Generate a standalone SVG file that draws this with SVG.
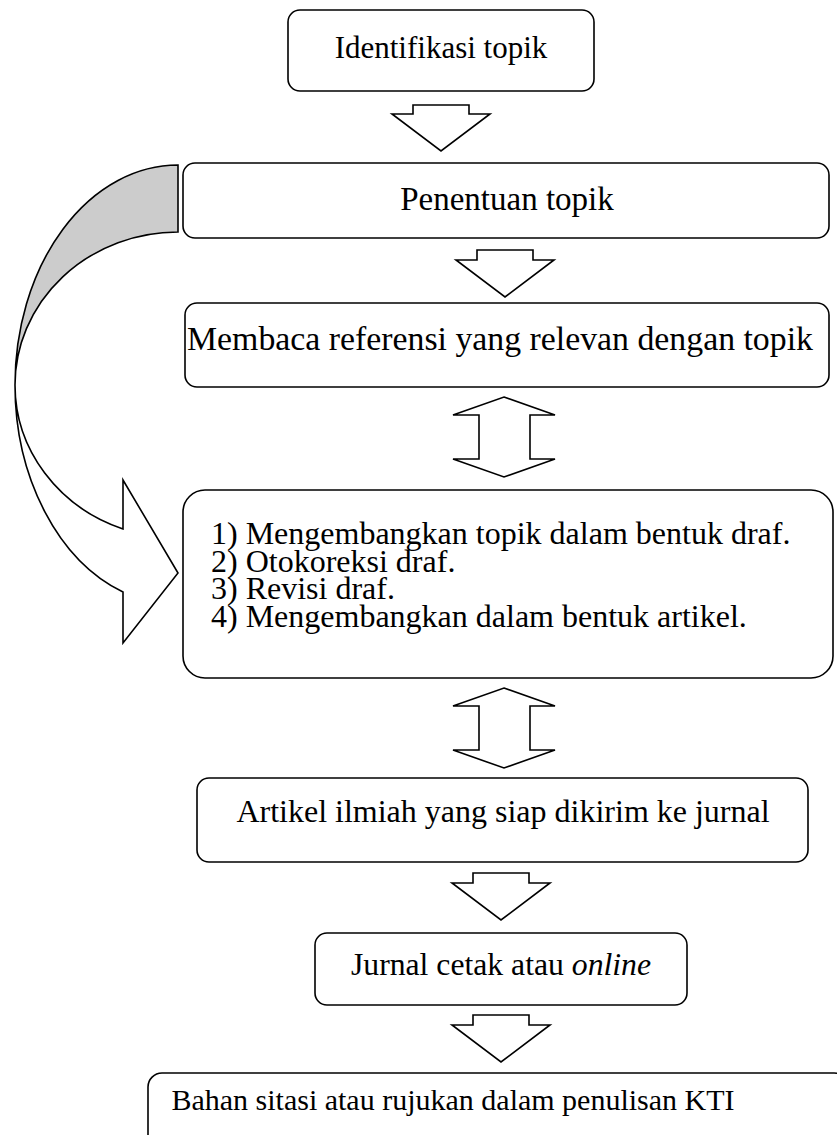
<svg xmlns="http://www.w3.org/2000/svg" width="837" height="1135" viewBox="0 0 837 1135">
<style>
.box{fill:#fff;stroke:#000;stroke-width:1.6}
.arr{fill:#fff;stroke:#000;stroke-width:1.6;stroke-linejoin:miter}
.t{font-family:"Liberation Serif","Times New Roman",serif;fill:#000}
.m{text-anchor:middle}
</style>
<rect width="837" height="1135" fill="#fff"/>
<g id="connectors">
<path id="curved-back" d="M178,165 A163,220 0 0 0 15,385 A163,153 0 0 1 178,232 Z" fill="#cccccc" stroke="#000" stroke-width="1.6"/>
<path id="curved-front" class="arr" d="M15,385 A163,220 0 0 0 123,592 L123,643 L178,573 L123,480 L123,529 A163,153 0 0 1 15,385 Z"/>
<polygon class="arr" points="413,105 469,105 469,114 490,114 441,151 392,114 413,114"/>
<polygon class="arr" points="477,250 533,250 533,260 554,260 505,297 456,260 477,260"/>
<polygon class="arr" points="504,397 555,415 530,415 530,459 555,459 504,477 453,459 479,459 479,415 453,415"/>
<polygon class="arr" points="504,688 555,706 530,706 530,750 555,750 504,768 453,750 479,750 479,706 453,706"/>
<polygon class="arr" points="473,873 529,873 529,883 550,883 501,920 452,883 473,883"/>
<polygon class="arr" points="473,1015 529,1015 529,1025 550,1025 501,1062 452,1025 473,1025"/>
</g>
<g id="n1"><rect class="box" x="288" y="10" width="306" height="81" rx="12"/><text class="t m" x="441" y="58" font-size="31">Identifikasi topik</text></g>
<g id="n2"><rect class="box" x="183" y="163" width="646" height="75" rx="12"/><text class="t m" x="507" y="210" font-size="33">Penentuan topik</text></g>
<g id="n3"><rect class="box" x="185" y="303" width="644" height="84" rx="12"/><text class="t m" x="500" y="350" font-size="33.8">Membaca referensi yang relevan dengan topik</text></g>
<g id="n4"><rect class="box" x="183" y="490" width="650" height="188" rx="22"/>
<text class="t" x="211" y="544" font-size="32">1) Mengembangkan topik dalam bentuk draf.<tspan x="211" dy="27.7">2) Otokoreksi draf.</tspan><tspan x="211" dy="27.7">3) Revisi draf.</tspan><tspan x="211" dy="27.7">4) Mengembangkan dalam bentuk artikel.</tspan></text></g>
<g id="n5"><rect class="box" x="197" y="778" width="611" height="84" rx="12"/><text class="t m" x="503" y="822" font-size="32">Artikel ilmiah yang siap dikirim ke jurnal</text></g>
<g id="n6"><rect class="box" x="315" y="933" width="372" height="72" rx="12"/><text class="t m" x="501" y="975" font-size="31.7">Jurnal cetak atau <tspan font-style="italic">online</tspan></text></g>
<g id="n7"><rect class="box" x="148" y="1073" width="700" height="120" rx="14"/><text class="t m" x="453" y="1110" font-size="30">Bahan sitasi atau rujukan dalam penulisan KTI</text></g>
</svg>
